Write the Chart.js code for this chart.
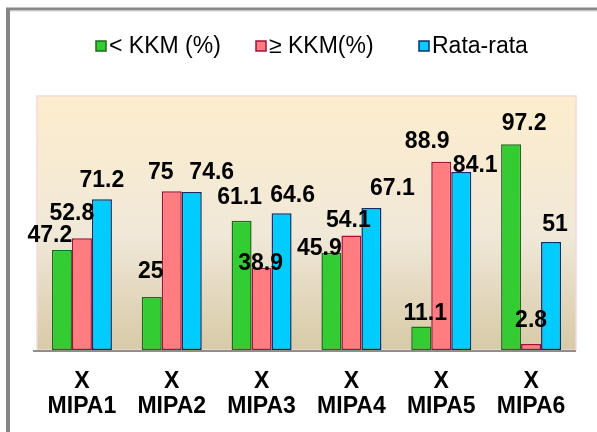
<!DOCTYPE html>
<html><head><meta charset="utf-8">
<script src="https://cdn.jsdelivr.net/npm/chart.js@4/dist/chart.umd.min.js"></script>
<style>html,body{margin:0;padding:0;background:#fff;}#wrap{position:relative;width:597px;height:432px;}</style>
</head><body><div id="wrap"><canvas id="c" width="597" height="432"></canvas></div>
<script>
const categories = [['X','MIPA1'],['X','MIPA2'],['X','MIPA3'],['X','MIPA4'],['X','MIPA5'],['X','MIPA6']];
const seriesNames = ['< KKM (%)', '\u2265 KKM(%)', 'Rata-rata'];
const belowKKM = [47.2, 25, 61.1, 45.9, 11.1, 97.2];
const atLeastKKM = [52.8, 75, 38.9, 54.1, 88.9, 2.8];
const average = [71.2, 74.6, 64.6, 67.1, 84.1, 51];

// label nudges (dx, gap above bar top), per series
const labelNudges = [
  [[-12,8],[-1,19],[-2,17],[-12,-2],[4,6.5],[13,14]],
  [[-10,18],[-11,12],[-1,-2],[-3,8.5],[-14,14],[0,17]],
  [[0,12],[20,13],[11,11],[21,13],[14,0],[4,11]]
];
const legendX = [96, 256, 419];
const FONT = '"Liberation Sans", Arial, sans-serif';

const decor = {
  id: 'decor',
  beforeDraw(chart) {
    const ctx = chart.ctx, a = chart.chartArea;
    ctx.save();
    ctx.fillStyle = '#fff';
    ctx.fillRect(0, 0, chart.width, chart.height);
    ctx.fillStyle = '#868686';
    ctx.fillRect(6, 8, 4, chart.height - 8);
    ctx.fillRect(6, 7.5, chart.width - 6, 3);
    ctx.fillStyle = '#d0d0d0';
    ctx.fillRect(10, 10.5, chart.width - 10, 1);
    const g = ctx.createLinearGradient(0, a.top, 0, a.bottom);
    g.addColorStop(0, '#FDEDCD');
    g.addColorStop(0.55, '#F0E8D8');
    g.addColorStop(1, '#D7CAA7');
    ctx.fillStyle = g;
    ctx.fillRect(a.left, a.top, a.right - a.left, a.bottom - a.top);
    ctx.strokeStyle = '#F3D9D9';
    ctx.lineWidth = 1.5;
    ctx.strokeRect(a.left, a.top, a.right - a.left, a.bottom - a.top);
    ctx.restore();
  },
  afterDatasetsDraw(chart) {
    const ctx = chart.ctx, a = chart.chartArea;
    ctx.save();
    ctx.strokeStyle = '#8E8E8E';
    ctx.lineWidth = 2;
    ctx.beginPath();
    ctx.moveTo(a.left - 4, a.bottom + 1);
    ctx.lineTo(a.right, a.bottom + 1);
    ctx.stroke();
    ctx.fillStyle = '#000';
    ctx.font = 'bold 23px ' + FONT;
    ctx.textAlign = 'center';
    ctx.textBaseline = 'alphabetic';
    chart.data.datasets.forEach((ds, di) => {
      const meta = chart.getDatasetMeta(di);
      meta.data.forEach((bar, i) => {
        const n = labelNudges[di][i];
        ctx.fillText(String(ds.data[i]), bar.x + n[0], bar.y - n[1]);
      });
    });
    ctx.font = '23px ' + FONT;
    ctx.textAlign = 'left';
    ctx.textBaseline = 'middle';
    const box = 10, cy = 46;
    chart.data.datasets.forEach((ds, di) => {
      const x = legendX[di];
      ctx.fillStyle = ds.backgroundColor;
      ctx.fillRect(x, cy - box / 2, box, box);
      ctx.strokeStyle = ds.borderColor;
      ctx.lineWidth = 1.5;
      ctx.strokeRect(x, cy - box / 2, box, box);
      ctx.fillStyle = '#000';
      ctx.fillText(ds.label, x + box + 3, cy + 1);
    });
    ctx.restore();
  }
};

new Chart(document.getElementById('c'), {
  type: 'bar',
  data: {
    labels: categories,
    datasets: [
      { label: seriesNames[0], data: belowKKM, backgroundColor: '#33CC33', borderColor: '#1B6B1B' },
      { label: seriesNames[1], data: atLeastKKM, backgroundColor: '#FF7C80', borderColor: '#A0103A' },
      { label: seriesNames[2], data: average, backgroundColor: '#00CCFF', borderColor: '#0A2F6B' }
    ]
  },
  options: {
    responsive: false,
    devicePixelRatio: 1,
    animation: false,
    layout: { padding: { left: 37, right: 21, top: 96, bottom: 0 } },
    datasets: { bar: { categoryPercentage: 0.668, barPercentage: 1, borderWidth: 1.5, borderSkipped: false } },
    plugins: { legend: { display: false }, tooltip: { enabled: false } },
    scales: {
      x: {
        grid: { display: false, drawTicks: false },
        border: { display: false },
        ticks: { color: '#000', font: { family: FONT, size: 23, weight: 'bold', lineHeight: 1.1 }, padding: 19, maxRotation: 0, autoSkip: false },
        afterFit(scale) { scale.height = 82; }
      },
      y: { display: false, min: 0, max: 120 }
    }
  },
  plugins: [decor]
});
</script></body></html>
